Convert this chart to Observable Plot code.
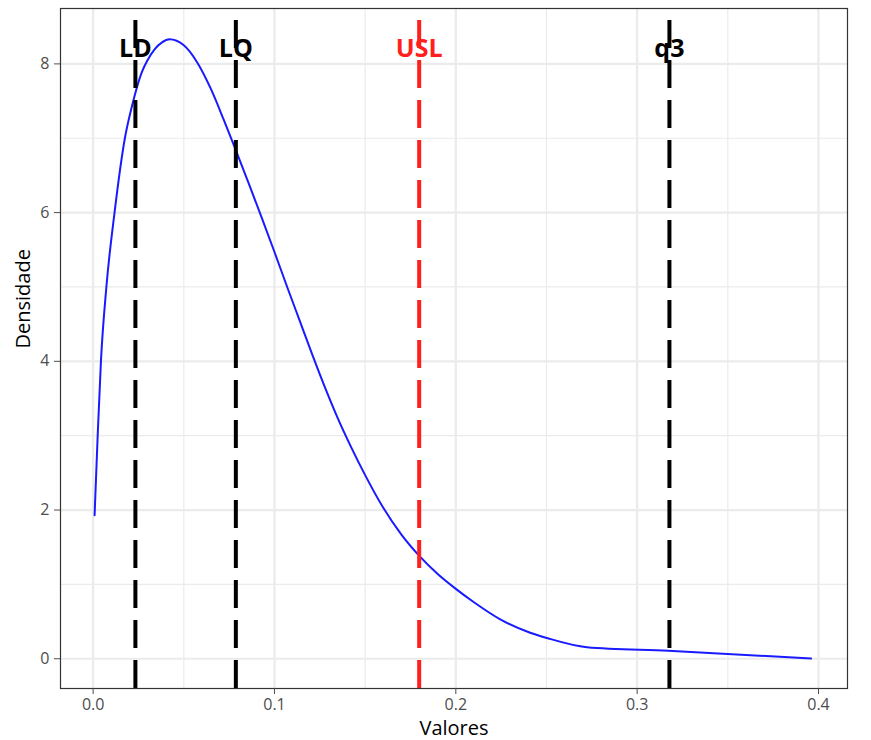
<!DOCTYPE html>
<html>
<head>
<meta charset="utf-8">
<script src="https://cdn.jsdelivr.net/npm/d3@7"></script>
<script src="https://cdn.jsdelivr.net/npm/@observablehq/plot@0.6"></script>
<style>
  html, body { margin: 0; padding: 0; background: #fff; }
  #chart svg { display: block; }
</style>
</head>
<body>
<div id="chart"></div>
<script>
// Density curve
const valores = [0.0008, 0.0025, 0.0043, 0.0073, 0.0118, 0.0175, 0.0216, 0.0267, 0.0300, 0.0340, 0.0380, 0.0421, 0.0500, 0.0574, 0.0650, 0.0720, 0.0790, 0.0860, 0.0930, 0.1000, 0.1070, 0.1140, 0.1210, 0.1280, 0.1350, 0.1420, 0.1500, 0.1600, 0.1700, 0.1800, 0.1900, 0.2000, 0.2100, 0.2245, 0.2410, 0.2502, 0.2723, 0.3171, 0.3959];
const densidade = [1.93, 3.0, 4.0, 5.0, 6.0, 7.0, 7.45, 7.88, 8.05, 8.20, 8.29, 8.33, 8.25, 8.02, 7.66, 7.25, 6.82, 6.38, 5.93, 5.47, 5.0, 4.54, 4.08, 3.64, 3.23, 2.86, 2.47, 2.03, 1.67, 1.38, 1.14, 0.94, 0.76, 0.53, 0.35, 0.28, 0.156, 0.107, 0.005];

// Reference lines
const refNames = ["LD", "LQ", "USL", "q3"];
const refValues = [0.0233, 0.0787, 0.1798, 0.3178];
const refColors = ["#000000", "#000000", "#ff1f1f", "#000000"];
const labelY = 8.2;

// Axis ticks
const xTicks = [0, 0.1, 0.2, 0.3, 0.4];
const xMinor = [0.05, 0.15, 0.25, 0.35];
const yTicks = [0, 2, 4, 6, 8];
const yMinor = [1, 3, 5, 7];

const xDomain = [-0.0180, 0.4160];
const yDomain = [-0.40, 8.745];

const curve = valores.map((v, i) => ({x: v, y: densidade[i]}));
const refs = refNames.map((n, i) => ({name: n, x: refValues[i], color: refColors[i]}));

const chart = Plot.plot({
  width: 871,
  height: 740,
  marginLeft: 60,
  marginRight: 24,
  marginTop: 8,
  marginBottom: 52,
  style: {fontFamily: "'Open Sans', sans-serif", fontSize: "16px", background: "#fff"},
  x: {domain: xDomain, label: null},
  y: {domain: yDomain, label: null},
  marks: [
    Plot.ruleX(xMinor, {stroke: "#ebebeb", strokeWidth: 1.2}),
    Plot.ruleY(yMinor, {stroke: "#ebebeb", strokeWidth: 1.2}),
    Plot.ruleX(xTicks, {stroke: "#ebebeb", strokeWidth: 2.2}),
    Plot.ruleY(yTicks, {stroke: "#ebebeb", strokeWidth: 2.2}),
    Plot.line(curve, {x: "x", y: "y", stroke: "#1a1aff", strokeWidth: 2, curve: "monotone-x"}),
    Plot.ruleX(refs, {x: "x", y1: () => yDomain[0], y2: () => yDomain[1], stroke: "color", strokeWidth: 4, strokeDasharray: "28,12"}),
    Plot.text(refs, {x: "x", y: () => labelY, text: "name", fill: "color", fontSize: 25, fontWeight: "bold", textAnchor: "middle"}),
    Plot.frame({stroke: "#333333", strokeWidth: 1.2}),
    Plot.axisX({ticks: xTicks, tickFormat: d3.format(".1f"), tickSize: 6, tickPadding: 4, color: "#4d4d4d", label: null, fontSize: 16}),
    Plot.axisY({ticks: yTicks, tickFormat: d3.format("d"), tickSize: 6, tickPadding: 5, color: "#4d4d4d", label: null, fontSize: 16}),
    Plot.text(["Valores"], {frameAnchor: "bottom", dy: 46, lineAnchor: "bottom", fontSize: 20, fill: "#000"}),
    Plot.text(["Densidade"], {frameAnchor: "left", dx: -37, rotate: -90, fontSize: 20, fill: "#000"})
  ]
});
document.getElementById("chart").appendChild(chart);
</script>
</body>
</html>
